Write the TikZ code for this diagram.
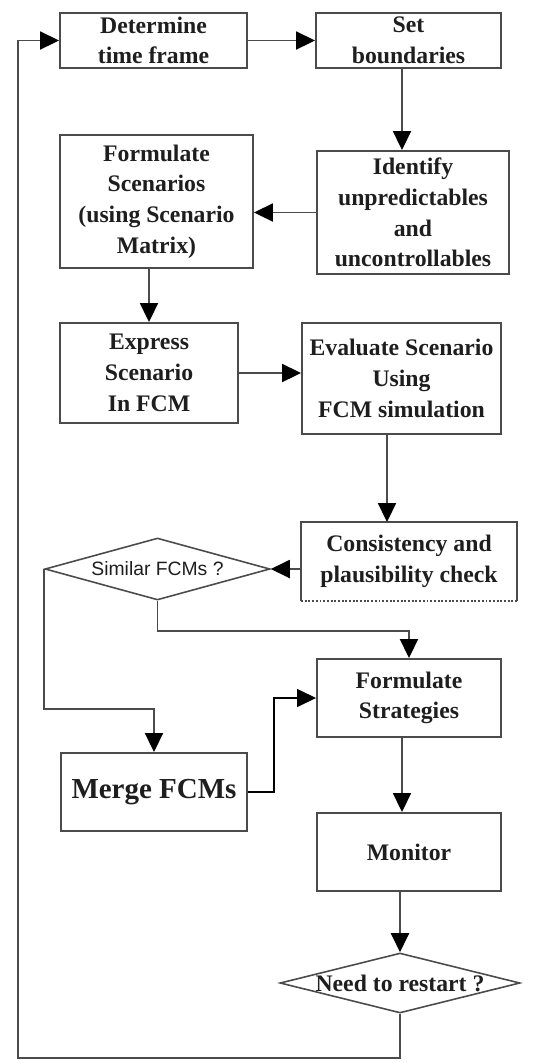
\documentclass[tikz,border=0pt]{standalone}
\usepackage{fontspec}
\setmainfont{Liberation Serif}
\newfontfamily\fonteSans{Liberation Sans}
\usetikzlibrary{arrows.meta,shapes.geometric}

\definecolor{cinza}{RGB}{75,75,75}
\definecolor{texto}{RGB}{30,30,30}

\begin{document}
\begin{tikzpicture}[x=0.02cm, y=-0.02cm,
    >={Triangle[length=3.8mm,width=3.6mm,color=black]},
    caixa/.style={draw=cinza, line width=1.1pt, align=center, inner sep=0pt, text=texto,
        font=\fontsize{13.5}{17.5}\selectfont\bfseries},
    losango/.style={diamond, draw=cinza, line width=0.9pt, inner sep=0pt, text=texto},
    fluxo/.style={cinza, line width=1.1pt}]

    \useasboundingbox (0,0) rectangle (533,1063);

    % Caixas de cima
    \node[caixa, minimum width=3.74cm, minimum height=1.10cm] (det) at (153.5,40.5) {Determine\\time frame};
    \node[caixa, minimum width=3.70cm, minimum height=1.10cm] (lim) at (408.5,40.5) {Set\\boundaries};
    \node[caixa, minimum width=3.84cm, minimum height=2.46cm] (ident) at (413,212.5) {Identify\\unpredictables\\and\\uncontrollables};
    \node[caixa, minimum width=3.86cm, minimum height=2.66cm] (form) at (156.5,201.5) {Formulate\\Scenarios\\(using Scenario\\Matrix)};
    \node[caixa, minimum width=3.56cm, minimum height=2.00cm] (expr) at (149,373) {Express\\Scenario\\In FCM};
    \node[caixa, minimum width=3.98cm, minimum height=2.22cm] (aval) at (401.5,378.5) {Evaluate Scenario\\Using\\FCM simulation};

    % Caixa com borda de baixo pontilhada
    \node[caixa, draw=none, minimum width=4.28cm, minimum height=1.54cm] (cons) at (409,561.5) {Consistency and\\plausibility check};
    \draw[fluxo] (cons.south west) -- (cons.north west) -- (cons.north east) -- (cons.south east);
    \draw[fluxo, densely dotted] (cons.south west) -- (cons.south east);

    % Decisoes
    \node[losango, aspect=3.6, minimum width=4.5cm, minimum height=1.24cm,
        font=\fonteSans\fontsize{11}{13}\selectfont] (sim) at (157.5,569) {Similar FCMs ?};
    \node[losango, aspect=4, minimum width=4.8cm, minimum height=1.2cm, inner xsep=-4mm,
        font=\fontsize{13.5}{16}\selectfont\bfseries] (rest) at (400,983) {Need to restart ?};

    % Caixas de baixo
    \node[caixa, minimum width=3.68cm, minimum height=1.56cm] (estr) at (409,698) {Formulate\\Strategies};
    \node[caixa, minimum width=3.72cm, minimum height=1.56cm,
        font=\fontsize{16.5}{19}\selectfont\bfseries] (merge) at (154,792) {Merge FCMs};
    \node[caixa, minimum width=3.68cm, minimum height=1.56cm] (mon) at (409,852) {Monitor};

    % Setas
    \draw[fluxo, ->] (det) -- (lim);
    \draw[fluxo, ->] (lim.south -| 402,0) -- (ident.north -| 402,0);
    \draw[fluxo, ->] (ident) -- (ident -| form.east);
    \draw[fluxo, ->] (form.south -| expr) -- (expr.north);
    \draw[fluxo, ->] (expr) -- (expr -| aval.west);
    \draw[fluxo, ->] (aval.south -| 387,0) -- (cons.north -| 387,0);
    \draw[fluxo, ->] (cons.west |- sim) -- (sim.east);
    \draw[fluxo, ->] (sim.south) -- ++(0,30) -| (estr.north);
    \draw[fluxo, ->] (sim.west) -- ++(0,140) -| (merge.north);
    \draw[->, black, line width=0.8pt] (merge.east) -- ++(26,0) |- (estr.west);
    \draw[fluxo, ->] (estr.south -| 402,0) -- (mon.north -| 402,0);
    \draw[fluxo, ->] (mon.south -| rest) -- (rest.north);

    % Volta ao inicio
    \coordinate (volta) at (18,1058);
    \draw[fluxo, ->] (rest.south) |- (volta) |- (det.west);

\end{tikzpicture}
\end{document}
